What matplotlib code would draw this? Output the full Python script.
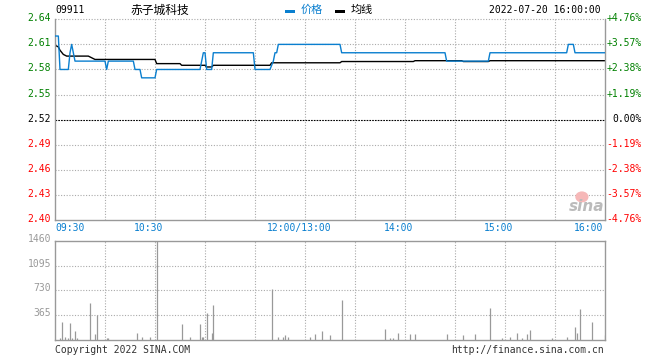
import matplotlib.pyplot as plt
from matplotlib.patches import Rectangle, Ellipse

# 分时数据: minutes since 09:30 (lunch break removed, 330 min in total)
price_t = [0, 2, 3, 8, 9, 10, 11, 12, 30, 31, 32, 47, 48, 51, 52, 60, 61,
           87, 88, 89, 90, 91, 94, 95, 119, 120, 129, 131, 132, 133, 134,
           171, 172, 234, 235, 260, 261, 307, 308, 311, 312, 330]
price_v = [2.62, 2.62, 2.58, 2.58, 2.60, 2.61, 2.60, 2.59, 2.59, 2.58, 2.59,
           2.59, 2.58, 2.58, 2.57, 2.57, 2.58, 2.58, 2.59, 2.60, 2.60, 2.58,
           2.58, 2.60, 2.60, 2.58, 2.58, 2.59, 2.60, 2.60, 2.61, 2.61, 2.60,
           2.60, 2.59, 2.59, 2.60, 2.60, 2.61, 2.61, 2.60, 2.60]

avg_t = [0, 2, 3, 5, 7, 20, 24, 60, 61, 75, 76, 90, 91, 94, 95, 129, 130,
         171, 172, 215, 216, 244, 245, 260, 261, 330]
avg_v = [2.609, 2.607, 2.603, 2.598, 2.596, 2.596, 2.592, 2.592, 2.587,
         2.587, 2.585, 2.585, 2.583, 2.583, 2.585, 2.585, 2.588, 2.588,
         2.5895, 2.5895, 2.5905, 2.5905, 2.5895, 2.5895, 2.5905, 2.5905]

vol_t = [3, 4, 6, 8, 9, 10, 12, 13, 21, 24, 25, 31, 32, 49, 52, 57, 61, 76,
         81, 87, 88, 89, 91, 94, 95, 130, 134, 137, 138, 140, 153, 156, 160,
         165, 172, 198, 201, 203, 206, 213, 216, 235, 245, 252, 261, 268, 273,
         277, 280, 283, 285, 298, 307, 312, 313, 315, 322, 330]
vol_v = [35, 270, 45, 35, 250, 35, 137, 35, 549, 93, 363, 35, 35, 108, 40,
         50, 1460, 240, 50, 240, 50, 40, 402, 108, 520, 750, 50, 40, 75, 40,
         50, 93, 137, 78, 593, 167, 35, 35, 108, 93, 93, 93, 78, 93, 475, 35,
         50, 108, 35, 93, 152, 35, 50, 196, 108, 461, 270, 78]

prev_close = 2.52
price_ticks = [2.64, 2.61, 2.58, 2.55, 2.52, 2.49, 2.46, 2.43, 2.40]
vol_ticks = [1460, 1095, 730, 365]
time_ticks = [0, 60, 150, 210, 270, 330]
time_labels = ['09:30', '10:30', '12:00/13:00', '14:00', '15:00', '16:00']
grid_t = list(range(30, 330, 30))

GREEN = '#008000'
RED = '#ff0000'
BLUE = '#0a7fcf'
GRAY = '#999999'
GRID = '#aaaaaa'
mono = dict(family='DejaVu Sans Mono', fontsize=7)
cjk = ['Noto Sans CJK SC', 'DejaVu Sans']

W, H = 660, 360


def box(l, t, r, b):
    return [l / W, 1 - b / H, (r - l) / W, (b - t) / H]


def pt(v):
    # pixels -> points at dpi 100
    return v * 0.72


fig = plt.figure(figsize=(6.6, 3.6), dpi=100)
ax = fig.add_axes(box(55, 19.3, 605, 220))
axv = fig.add_axes(box(55, 240.7, 605, 340))

for a in (ax, axv):
    a.set_xlim(0, 330)
    a.set_xticks([])
    a.set_yticks([])
    for s in a.spines.values():
        s.set_color(GRAY)
        s.set_linewidth(1)
    for t in grid_t:
        a.axvline(t, color=GRID, lw=0.8, ls=(0, (1, 1.5)), zorder=0)

# price panel
ax.set_ylim(2.40, 2.64)
ax.spines['top'].set_visible(False)
for p in price_ticks:
    if p == 2.40:
        continue
    if abs(p - prev_close) < 1e-9:
        ax.axhline(p, color='black', lw=0.8, ls=(0, (1.5, 1)), zorder=1)
    else:
        ax.axhline(p, color=GRID, lw=0.8, ls=(0, (1, 1.5)), zorder=0, clip_on=False)

ax.plot(price_t, price_v, color=BLUE, lw=1, zorder=3)
ax.plot(avg_t, avg_v, color='black', lw=1, zorder=2)

for p in price_ticks:
    pct = round((p - prev_close) / prev_close * 100, 2)
    if pct > 0:
        c, s = GREEN, f'+{pct:.2f}%'
    elif pct < 0:
        c, s = RED, f'{pct:.2f}%'
    else:
        c, s = 'black', '0.00%'
    ax.annotate(f'{p:.2f}', xy=(0, p), xycoords=('axes fraction', 'data'),
                xytext=(pt(-4), pt(-2)), textcoords='offset points',
                ha='right', va='baseline', color=c, annotation_clip=False, **mono)
    ax.annotate(s, xy=(1, p), xycoords=('axes fraction', 'data'),
                xytext=(pt(37), pt(-2)), textcoords='offset points',
                ha='right', va='baseline', color=c, annotation_clip=False, **mono)

for t, lab in zip(time_ticks, time_labels):
    if t == 0:
        ha, dx = 'left', 0
    elif t == 330:
        ha, dx = 'right', -2
    else:
        ha, dx = 'center', -6
    ax.annotate(lab, xy=(t, 0), xycoords=('data', 'axes fraction'),
                xytext=(pt(dx), pt(-3)), textcoords='offset points',
                ha=ha, va='top', color=BLUE, annotation_clip=False, **mono)

# sina watermark
ax.add_patch(Ellipse((0.958, 0.115), 0.024, 0.055, transform=ax.transAxes,
                     facecolor='#f6b8b8', edgecolor='none', zorder=1))
ax.text(0.966, 0.065, 'sina', transform=ax.transAxes, ha='center', va='center',
        fontsize=11, fontstyle='italic', fontweight='bold', color='#bbbbbb', zorder=1)

# volume panel
axv.set_ylim(0, 1460)
for v in vol_ticks[1:]:
    axv.axhline(v, color=GRID, lw=0.8, ls=(0, (1, 1.5)), zorder=0)
axv.vlines(vol_t, 0, vol_v, colors=GRAY, lw=0.9, zorder=2)
for v in vol_ticks:
    axv.annotate(str(v), xy=(0, v), xycoords=('axes fraction', 'data'),
                 xytext=(pt(-4), pt(-1)), textcoords='offset points',
                 ha='right', va='baseline', color=GRAY, annotation_clip=False, **mono)

# header
ty = 1 - 10 / H
fig.text(55 / W, ty, '09911', ha='left', va='center', color='black', **mono)
fig.text(160 / W, ty, '赤子城科技', ha='center', va='center', family=cjk, fontsize=8.5)
fig.patches.append(Rectangle((285 / W, 1 - 12.7 / H), 10 / W, 3 / H,
                             transform=fig.transFigure, facecolor=BLUE, edgecolor='none'))
fig.text(301 / W, ty, '价格', ha='left', va='center', family=cjk, fontsize=8, color=BLUE)
fig.patches.append(Rectangle((335 / W, 1 - 12.7 / H), 10 / W, 3 / H,
                             transform=fig.transFigure, facecolor='black', edgecolor='none'))
fig.text(351 / W, ty, '均线', ha='left', va='center', family=cjk, fontsize=8, color='black')
fig.text(601 / W, ty, '2022-07-20 16:00:00', ha='right', va='center', color='black', **mono)

# footer
fy = 1 - 350 / H
fig.text(55 / W, fy, 'Copyright 2022 SINA.COM', ha='left', va='center', color='#333333', **mono)
fig.text(604 / W, fy, 'http://finance.sina.com.cn', ha='right', va='center', color='#333333', **mono)

fig.savefig('out.png', dpi=100, facecolor='white')
